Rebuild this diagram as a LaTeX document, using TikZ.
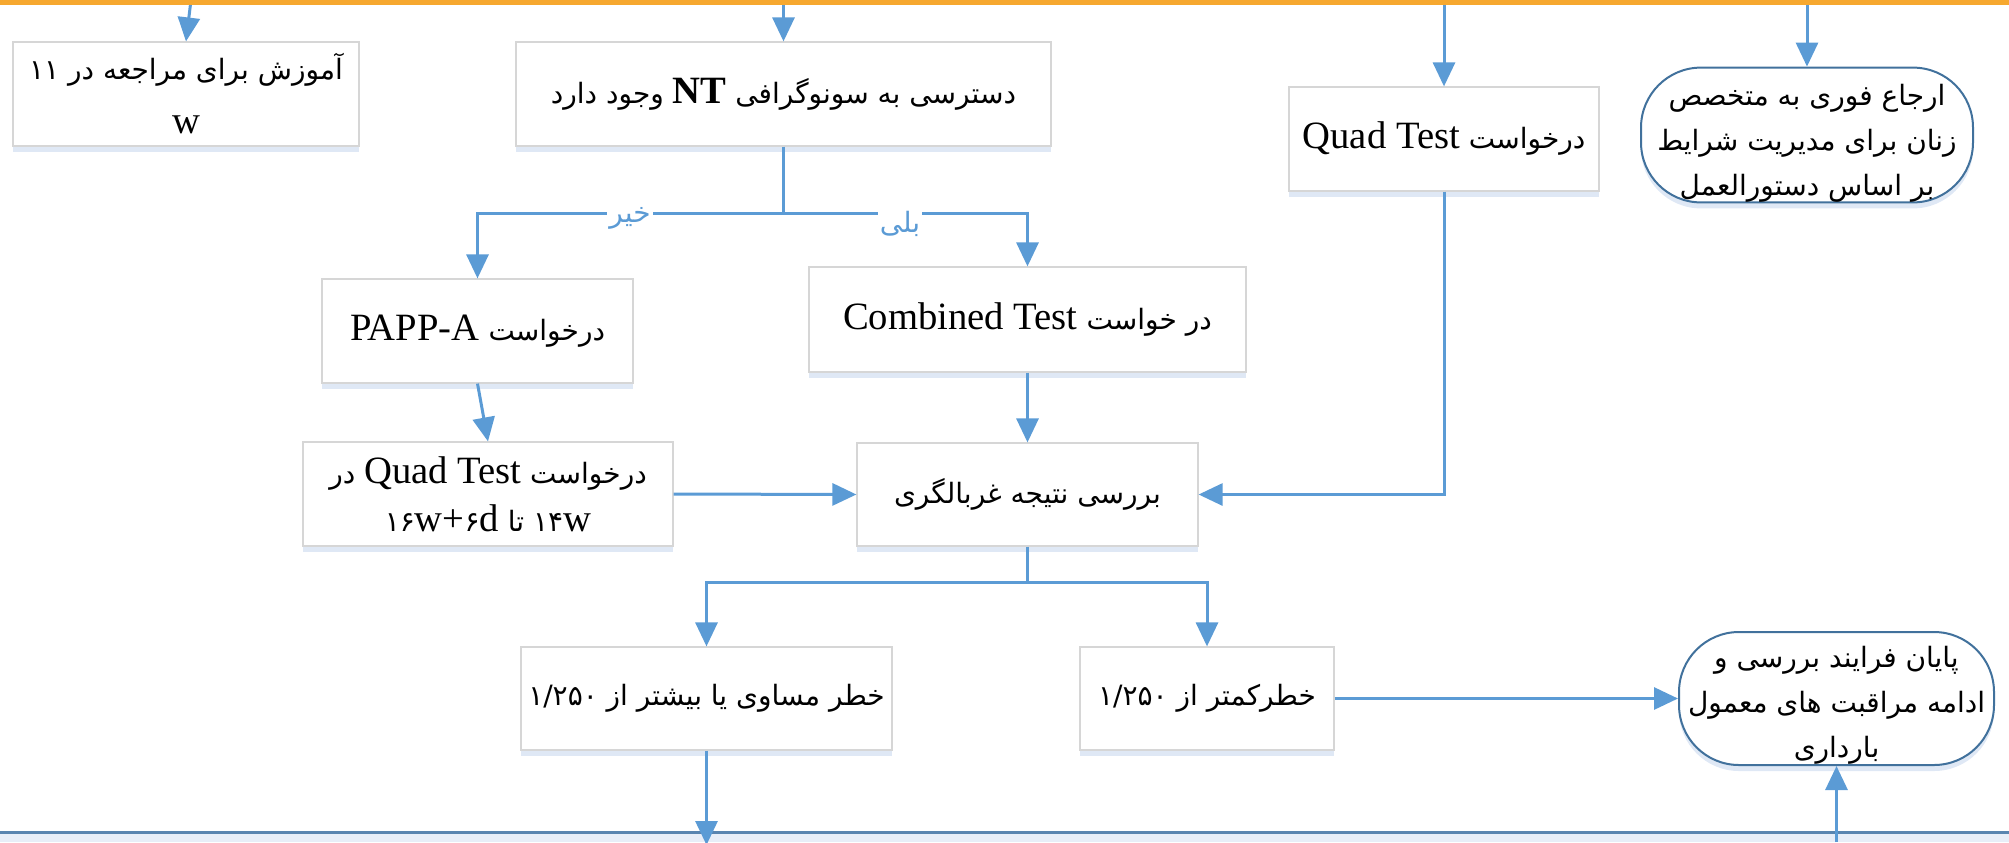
\documentclass[tikz,border=0pt]{standalone}
\usepackage{fontspec}
\setmainfont{DejaVu Sans}
\newfontfamily\fa[Script=Arabic]{DejaVu Sans}
\newfontfamily\la[Scale=1.38]{Liberation Serif}
\TeXXeTstate=1
\usetikzlibrary{arrows.meta,shapes.misc,shadows,calc}
\definecolor{arrowc}{HTML}{5B9BD5}
\definecolor{termc}{HTML}{41719C}
\definecolor{boxc}{HTML}{D6D6D6}
\definecolor{shadc}{HTML}{C9D9EE}
\definecolor{topc}{HTML}{F6A82F}
\definecolor{botline}{HTML}{5A85B0}
\definecolor{botfill}{HTML}{E8EEF8}
\newcommand\myR[1]{\beginR#1\endR}
\newcommand\myL[1]{\beginL{\la #1}\endL}
\newcommand\myLd[1]{\beginL #1\endL}
\begin{document}
\begin{tikzpicture}[x=0.5pt,y=-0.5pt,
  font=\fa\fontsize{14}{24}\selectfont,
  box/.style={draw=boxc, line width=0.6pt, fill=white, align=center, inner sep=2pt,
    drop shadow={shadow xshift=0pt, shadow yshift=-3pt, fill=shadc, opacity=0.6}},
  term/.style={rectangle, rounded corners=30pt, draw=termc,
    line width=1pt, fill=white, align=center, inner sep=0pt,
    font=\fa\fontsize{14}{22.5}\selectfont,
    drop shadow={shadow xshift=0pt, shadow yshift=-3pt, fill=shadc, opacity=0.6}},
  lnk/.style={draw=arrowc, line width=1.5pt},
  arr/.style={lnk, -{Triangle[length=12pt,width=11pt]}},
  lbl/.style={text=arrowc, fill=white, inner sep=1pt}]
\useasboundingbox (0,0) rectangle (2009,842);
% bottom band
\fill[botfill] (0,832) rectangle (2009,842);
\draw[botline, line width=1.5pt] (0,832) -- (2009,832);

% nodes
\node[box, minimum width=173pt, minimum height=52pt] (b1) at (186,94)
  {\myR{آموزش برای مراجعه در ۱۱}\\[3pt] {\la w}};
\node[box, minimum width=267.5pt, minimum height=52pt] (bnt) at (783.5,94)
  {\myR{دسترسی به سونوگرافی \myL{\bfseries NT} وجود دارد}};
\node[box, minimum width=155pt, minimum height=52pt] (bq3) at (1444,139)
  {\myR{درخواست \myL{Quad Test}}};
\node[term, minimum width=166pt, minimum height=67pt] (tref) at (1807,135)
  {\rule{0pt}{19pt}\myR{ارجاع فوری به متخصص}\\ \myR{زنان برای مدیریت شرایط}\\ \myR{بر اساس دستورالعمل}};
\node[box, minimum width=155.5pt, minimum height=52pt] (bpapp) at (477.5,331)
  {\myR{درخواست \myL{PAPP-A}}};
\node[box, minimum width=218.5pt, minimum height=52.5pt] (bcomb) at (1027.5,319.5)
  {\myR{در خواست \myL{Combined Test}}};
\node[box, minimum width=185pt, minimum height=52pt] (bq1) at (488,494)
  {\myR{درخواست \myL{Quad Test} در}\\ \myR{\myLd{۱۴{\la w}} تا \myLd{۱۶{\la w}{\la +}۶{\la d}}}};
\node[box, minimum width=170.5pt, minimum height=51.5pt] (bscr) at (1027.5,494.5)
  {\myR{بررسی نتیجه غربالگری}};
\node[box, minimum width=185.5pt, minimum height=51.5pt] (bhigh) at (706.5,698.5)
  {\myR{خطر مساوی یا بیشتر از \myLd{۱/۲۵۰}}};
\node[box, minimum width=127pt, minimum height=51.5pt] (blow) at (1207,698.5)
  {\myR{خطرکمتر از \myLd{۱/۲۵۰}}};
\node[term, minimum width=157.5pt, minimum height=66.5pt] (tend) at (1836.5,698.5)
  {\rule{0pt}{17pt}\myR{پایان فرایند بررسی و}\\ \myR{ادامه مراقبت های معمول}\\ \myR{بارداری}};

% free ends and junctions
\coordinate (s1) at (191,0);
\coordinate (s2) at (783.5,0);
\coordinate (s3) at (1444,0);
\coordinate (s4) at (1807,0);
\coordinate (e1) at (706.5,845);
\coordinate (e2) at (1836.5,842);
\coordinate (j1) at (783.5,213);
\coordinate (j2) at (1027.5,582);

% connectors
\draw[arr] (s1) -- (b1.north);
\draw[arr] (s2) -- (bnt.north);
\draw[arr] (s3) -- (bq3.north);
\draw[arr] (s4) -- (tref.north);
\draw[lnk] (bnt.south) -- (j1);
\draw[arr] (j1) -| (bpapp.north);
\draw[arr] (j1) -| (bcomb.north);
\draw[arr] (bpapp.south) -- (bq1.north);
\draw[arr] (bcomb.south) -- (bscr.north);
\draw[arr] (bq1.east) -- (bscr.west);
\draw[arr] (bq3.south) |- (bscr.east);
\draw[lnk] (bscr.south) -- (j2);
\draw[arr] (j2) -| (bhigh.north);
\draw[arr] (j2) -| (blow.north);
\draw[arr] (bhigh.south) -- (e1);
\draw[arr] (blow.east) -- (tend.west);
\draw[arr] (e2) -- (tend.south);

% branch labels
\node[lbl] (no) at (630,218) {\myR{خیر}};
\node[lbl] (yes) at (900,224) {\myR{بلی}};

% top band
\fill[topc] (0,0) rectangle (2009,5);
\end{tikzpicture}
\end{document}
